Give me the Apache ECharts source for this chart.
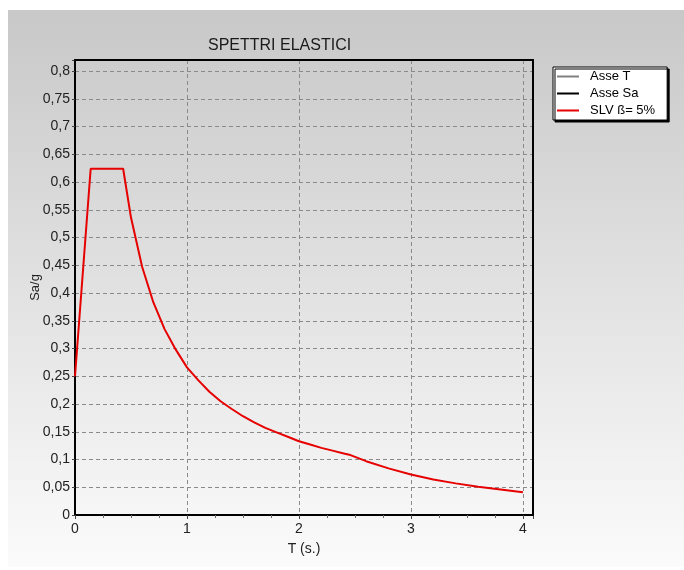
<!DOCTYPE html>
<html>
<head>
<meta charset="utf-8">
<script src="https://cdn.jsdelivr.net/npm/echarts@6/dist/echarts.min.js"></script>
<style>
html,body{margin:0;padding:0;background:#fff;}
#c{width:684px;height:570px;}
</style>
</head>
<body>
<div id="c"></div>
<script>
// Data
const titleText = 'SPETTRI ELASTICI';
const xName = 'T (s.)';
const yName = 'Sa/g';
const legendNames = ['Asse T', 'Asse Sa', 'SLV ß= 5%'];
const periodT = [0, 0.14, 0.43, 0.5, 0.6, 0.7, 0.8, 0.9, 1.0, 1.1, 1.2, 1.3, 1.4, 1.5, 1.6, 1.7, 1.8, 1.9, 2.0, 2.1, 2.2, 2.3, 2.4, 2.46, 2.6, 2.8, 3.0, 3.2, 3.4, 3.6, 3.8, 4.0];
const slvSa   = [0.25, 0.624, 0.624, 0.536, 0.447, 0.383, 0.335, 0.298, 0.266, 0.243, 0.222, 0.205, 0.191, 0.178, 0.167, 0.157, 0.149, 0.141, 0.133, 0.127, 0.121, 0.116, 0.111, 0.108, 0.097, 0.084, 0.073, 0.064, 0.057, 0.051, 0.046, 0.041];
const xTicks = [0, 1, 2, 3, 4];

const chart = echarts.init(document.getElementById('c'), null, {renderer: 'canvas'});
const FONT = '"Liberation Sans", Arial, sans-serif';
const slvData = periodT.map((t, i) => [t, slvSa[i]]);
const X_MAX = 4.09, Y_MAX = 0.82;

const frameAxis = {
  type: 'value', z: 5,
  axisLine: {show: true, onZero: false, lineStyle: {color: '#000', width: 2}},
  axisTick: {show: false}, axisLabel: {show: false}, splitLine: {show: false}
};

chart.setOption({
  animation: false,
  backgroundColor: '#ffffff',
  textStyle: {fontFamily: FONT},
  graphic: [{
    type: 'rect', z: -10, silent: true,
    shape: {x: 8, y: 10, width: 676, height: 557},
    style: {fill: new echarts.graphic.LinearGradient(0, 0, 0, 1, [
      {offset: 0, color: '#c8c8c8'},
      {offset: 1, color: '#fbfbfb'}
    ])}
  }],
  title: {
    text: titleText, left: 208, top: 38, padding: 0,
    textStyle: {fontFamily: FONT, fontSize: 16, fontWeight: 'normal', color: '#1a1a1a'}
  },
  legend: {
    orient: 'vertical', left: 553, top: 67,
    data: legendNames,
    backgroundColor: '#ffffff', borderColor: '#000', borderWidth: 1,
    shadowColor: '#000', shadowOffsetX: 2, shadowOffsetY: 2, shadowBlur: 0,
    padding: [3, 12, 3, 3],
    itemWidth: 22, itemHeight: 12, itemGap: 4,
    itemStyle: {opacity: 0, borderWidth: 0},
    textStyle: {fontFamily: FONT, fontSize: 13, color: '#000', padding: [0, 0, 0, 6]}
  },
  grid: {
    left: 75, top: 60, right: 151, bottom: 55,
    show: false
  },
  xAxis: [{
    type: 'value', min: 0, max: X_MAX, interval: 1,
    name: xName, nameLocation: 'middle', nameGap: 27,
    nameTextStyle: {fontFamily: FONT, fontSize: 14, color: '#222'},
    axisLine: {show: true, lineStyle: {color: '#000', width: 2}},
    axisTick: {show: true, length: 4, lineStyle: {color: '#444'}},
    minorTick: {show: true, splitNumber: 4, length: 3, lineStyle: {color: '#666'}},
    axisLabel: {
      fontFamily: FONT, fontSize: 14, color: '#222', margin: 7,
      formatter: v => (xTicks.indexOf(v) >= 0 ? String(v) : '')
    },
    splitLine: {show: true, lineStyle: {color: '#8a8a8a', type: [4, 3], width: 1}}
  }, Object.assign({}, frameAxis, {position: 'top', min: 0, max: X_MAX})],
  yAxis: [{
    type: 'value', min: 0, max: Y_MAX, interval: 0.05,
    name: yName, nameLocation: 'middle', nameGap: 33, nameRotate: 90, nameMoveOverlap: false,
    nameTextStyle: {fontFamily: FONT, fontSize: 13, color: '#222'},
    axisLine: {show: true, lineStyle: {color: '#000', width: 2}},
    axisTick: {show: true, length: 3, lineStyle: {color: '#444'}},
    axisLabel: {
      fontFamily: FONT, fontSize: 14, color: '#222', margin: 5,
      formatter: v => (v > 0.805 ? '' : String(+v.toFixed(2)).replace('.', ','))
    },
    splitLine: {show: true, lineStyle: {color: '#8a8a8a', type: [4, 3], width: 1}}
  }, Object.assign({}, frameAxis, {position: 'right', min: 0, max: Y_MAX})],
  series: [
    {name: legendNames[0], type: 'line', data: [], symbol: 'none', lineStyle: {color: '#808080', width: 1.5}, itemStyle: {color: '#808080'}},
    {name: legendNames[1], type: 'line', data: [], symbol: 'none', lineStyle: {color: '#000000', width: 1}, itemStyle: {color: '#000000'}},
    {name: legendNames[2], type: 'line', data: slvData, symbol: 'none', lineStyle: {color: '#e60000', width: 2}, itemStyle: {color: '#e60000'}, z: 6}
  ]
});
</script>
</body>
</html>
